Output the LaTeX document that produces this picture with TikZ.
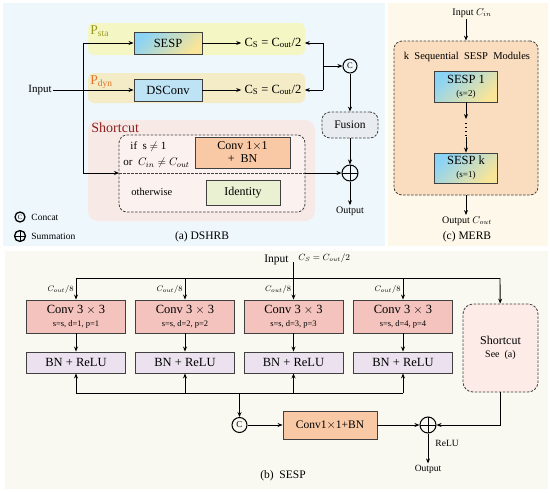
\documentclass[tikz,border=0pt]{standalone}
\usepackage{fontspec}
\setmainfont{Liberation Serif}
\usetikzlibrary{arrows.meta,calc}

\definecolor{bgA}{HTML}{EEF7FC}
\definecolor{bgB}{HTML}{F9F9F2}
\definecolor{bgC}{HTML}{FDF8EA}
\definecolor{psta}{HTML}{F4F6C4}
\definecolor{pdyn}{HTML}{F3ECC6}
\definecolor{scband}{HTML}{F6E9E6}
\definecolor{scbox}{HTML}{FBF1EE}
\definecolor{convone}{HTML}{F9C8A5}
\definecolor{identcol}{HTML}{EAF0D2}
\definecolor{dsconv}{HTML}{BEE3F5}
\definecolor{sespblue}{HTML}{8BD3F5}
\definecolor{sespyellow}{HTML}{F9E598}
\definecolor{fusioncol}{HTML}{E8ECF0}
\definecolor{merbcol}{HTML}{FADCBE}
\definecolor{convthree}{HTML}{F4C3BD}
\definecolor{bnrelu}{HTML}{ECE2EF}
\definecolor{scbcol}{HTML}{FCEBE6}
\definecolor{stacol}{HTML}{9C9A1E}
\definecolor{dyncol}{HTML}{E0742A}
\definecolor{shortred}{HTML}{8E1F1F}
\definecolor{edgecol}{HTML}{404040}

\newcommand{\fsz}[1]{\fontsize{#1}{#1}\selectfont}

\begin{document}
\begin{tikzpicture}[x=1pt,y=-1pt,
  >={Stealth[length=5pt,width=4pt]},
  line width=0.9pt,
  box/.style={draw=edgecol, line width=0.9pt, inner sep=0pt, align=center},
  sespshade/.style={top color=sespblue, bottom color=sespyellow, shading angle=45},
  arr/.style={->, line width=0.9pt},
  dbox/.style={draw=edgecol, dash pattern=on 2.5pt off 1.5pt, rounded corners=8pt, line width=0.8pt, inner sep=0pt, align=center},
  sumnode/.style={circle, draw, line width=1pt, minimum size=16pt, inner sep=0pt,
    path picture={\draw[line width=1pt] (path picture bounding box.north) -- (path picture bounding box.south)
      (path picture bounding box.west) -- (path picture bounding box.east);}},
  catnode/.style={circle, draw, line width=1pt, minimum size=14pt, inner sep=0pt, font=\fsz{8.5}},
  lbl/.style={inner sep=1pt}
]
\useasboundingbox (0,0) rectangle (550,493);
\fill[white] (0,0) rectangle (550,493);

% ---------------- backgrounds
\fill[bgA] (3,3) rectangle (385,246);
\fill[bgC] (388,3) rectangle (548,246);
\fill[bgB] (5,251) rectangle (548,489);

% ================= Panel (a)
\fill[psta, rounded corners=6pt] (88,23) rectangle (305,55);
\fill[pdyn, rounded corners=6pt] (88,73) rectangle (305,103);
\node[lbl, anchor=west, text=stacol, font=\fsz{13.5}] (plsta) at (89,31) {P\textsubscript{sta}};
\node[lbl, anchor=west, text=dyncol, font=\fsz{13.5}] (pldyn) at (89,82) {P\textsubscript{dyn}};

\node[box, sespshade, minimum width=68pt, minimum height=22pt, font=\fsz{12.5}] (sesp) at (168,43) {SESP};
\node[box, fill=dsconv, minimum width=68pt, minimum height=22pt, font=\fsz{12.5}] (dsc) at (168,90) {DSConv};
\node[lbl, font=\fsz{11}] (inA) at (40,90) {Input};

\node[font=\fsz{12.5}, inner sep=3pt] (csA) at (273,43) {C\textsubscript{S} = C\textsubscript{out}/2};
\node[font=\fsz{12.5}, inner sep=3pt] (csB) at (273,90) {C\textsubscript{S} = C\textsubscript{out}/2};

\coordinate (j1) at (83,43);
\coordinate (j2) at (83,173);
\draw[arr] (inA) -- (dsc);
\draw (j1) -- (j2);
\draw[arr] (j1) -- (sesp);
\draw[arr] (sesp) -- (csA);
\draw[arr] (dsc) -- (csB);

\coordinate (r1) at (323,43);
\coordinate (r2) at (323,90);
\coordinate (rj) at (323,66);
\node[catnode] (catA) at (350,66) {C};
\draw (r1) -- (r2);
\draw[arr] (r1) -- (csA);
\draw[arr] (r2) -- (csB);
\draw[arr] (rj) -- (catA);

\node[dbox, fill=fusioncol, minimum width=56pt, minimum height=26pt, font=\fsz{11.5}] (fus) at (350,125) {Fusion};
\node[sumnode] (sumA) at (350,173) {};
\node[lbl, font=\fsz{10}] (outA) at (350,211) {Output};
\draw[arr] (catA) -- (fus);
\draw[arr] (fus) -- (sumA);
\draw[arr] (sumA) -- (outA);

% shortcut
\fill[scband, rounded corners=10pt] (88,120) rectangle (315,221);
\node[lbl, anchor=west, text=shortred, font=\fsz{14}] (sclab) at (90,128) {Shortcut};
\node[dbox, fill=scbox, minimum width=186pt, minimum height=77pt] (scdash) at (212,173.5) {};
\coordinate (scl) at (119,173);
\coordinate (scr) at (305,173);
\draw[draw=edgecol, dash pattern=on 2.5pt off 1.5pt, line width=0.8pt] (scl) -- (scr);
\draw[arr] (j2) -- (scl);
\draw[arr] (scr) -- (sumA);

\node[lbl, anchor=west, font=\fsz{11}] (ifs) at (129,147) {if\ \ s $\neq$ 1};
\node[lbl, anchor=west, font=\fsz{11}] (orc) at (122,163) {or\ \ $C_{in} \neq C_{out}$};
\node[box, fill=convone, minimum width=95pt, minimum height=31pt, font=\fsz{12}] (c11) at (242.5,152.5) {Conv 1$\times$1\\[1pt]+\ \ BN};
\node[lbl, anchor=west, font=\fsz{10.5}] (oth) at (130,192) {otherwise};
\node[box, fill=identcol, minimum width=74pt, minimum height=25pt, font=\fsz{12}] (ident) at (243,192.5) {Identity};

% legend
\node[catnode, minimum size=10pt, line width=1.3pt, font=\fsz{6.5}] (lc) at (20,217) {C};
\node[lbl, anchor=west, font=\fsz{9.5}] (lct) at (30,217) {Concat};
\node[sumnode, minimum size=11pt, line width=1.3pt] (ls) at (20,236) {};
\node[lbl, anchor=west, font=\fsz{9.5}] (lst) at (30,236.5) {Summation};
\node[lbl, font=\fsz{11.5}] (capA) at (202,237) {(a) DSHRB};

% ================= Panel (c)
\node[lbl, font=\fsz{10}] (inC) at (472,13) {Input $C_{in}$};
\node[dbox, fill=merbcol, minimum width=144pt, minimum height=154pt] (merb) at (466,118) {};
\draw[arr] (inC.south -| merb.north) -- (merb.north);
\node[lbl, font=\fsz{10.5}] (kseq) at (467,57) {k\ \ Sequential\ \ SESP\ \ Modules};
\node[box, sespshade, minimum width=63pt, minimum height=31pt] (s1) at (466,86.5) {{\fsz{12.5}SESP 1}\\[1pt]{\fsz{9}(s=2)}};
\node[box, sespshade, minimum width=63pt, minimum height=30pt] (sk) at (466,168) {{\fsz{12.5}SESP k}\\[1pt]{\fsz{9}(s=1)}};
\coordinate (d1) at (466,119);
\coordinate (d2) at (466,137);
\draw[arr] (s1) -- (d1);
\draw[line width=1.3pt, dash pattern=on 1.4pt off 2.6pt] (466,123) -- (466,136);
\draw[arr] (d2) -- (sk);
\node[lbl, font=\fsz{10}] (outC) at (467,221) {Output $C_{out}$};
\draw[arr] (merb.south) -- (merb.south |- outC.north);
\node[lbl, font=\fsz{11.5}] (capC) at (467,237) {(c) MERB};

% ================= Panel (b)
\node[lbl, anchor=east, font=\fsz{11.5}] (inB) at (290,260) {Input};
\node[lbl, anchor=west, font=\fsz{9}] (csC) at (297,258) {$C_S = C_{out}/2$};

\foreach \i/\x/\d in {1/76/1, 2/185/2, 3/293.5/3, 4/403/4} {
  \node[box, fill=convthree, minimum width=99pt, minimum height=33pt] (cv\i) at (\x,316.5)
    {{\fsz{12.5}Conv 3 $\times$ 3}\\[1pt]{\fsz{8.5}s=s, d=\d, p=\d}};
  \node[box, fill=bnrelu, minimum width=99pt, minimum height=21pt, font=\fsz{12.5}] (bn\i) at (\x,362.5) {BN + ReLU};
  \node[lbl, anchor=east, font=\fsz{8.5}] (lb\i) at ($(cv\i.north)+(-1,-10)$) {$C_{out}/8$};
  \coordinate (bb\i) at (\x,393);
  \draw[arr] (cv\i) -- (bn\i);
  \draw[arr] (bb\i) -- (bn\i);
}
\coordinate (t1) at (76,278);
\coordinate (t2) at (185,278);
\coordinate (t4) at (403,278);
\coordinate (t5) at (500,278);
\coordinate (ib) at (293.5,262);
\draw (t1) -- (t5);
\draw[arr] (t1) -- (cv1);
\draw[arr] (t2) -- (cv2);
\draw[arr] (ib) -- (cv3);
\draw[arr] (t4) -- (cv4);
\draw (bb1) -- (bb4);

\node[dbox, fill=scbcol, rounded corners=10pt, minimum width=75pt, minimum height=88pt] (scB) at (500.5,348)
  {{\fsz{12}Shortcut}\\[1pt]{\fsz{10}See\ \ (a)}};
\draw[arr] (t5) -- (scB);

\coordinate (cj) at (239.5,393);
\node[catnode, minimum size=15pt, font=\fsz{9}] (catB) at (239.5,425) {C};
\draw[arr] (cj) -- (catB);
\node[box, fill=convone, minimum width=94pt, minimum height=28pt, font=\fsz{11.5}] (c1b) at (330,425) {Conv1$\times$1+BN};
\draw[arr] (catB) -- (c1b);
\node[sumnode] (sumB) at (428,425) {};
\draw[arr] (c1b) -- (sumB);
\draw[arr] (scB.south) |- (sumB);
\node[lbl, font=\fsz{9.5}] (outB) at (428,469) {Output};
\draw[arr] (sumB) -- (outB);
\node[lbl, anchor=west, font=\fsz{9.5}] (relu) at (434,443) {ReLU};
\node[lbl, font=\fsz{11.5}] (capB) at (283,476) {(b)\ \ SESP};
\end{tikzpicture}
\end{document}
